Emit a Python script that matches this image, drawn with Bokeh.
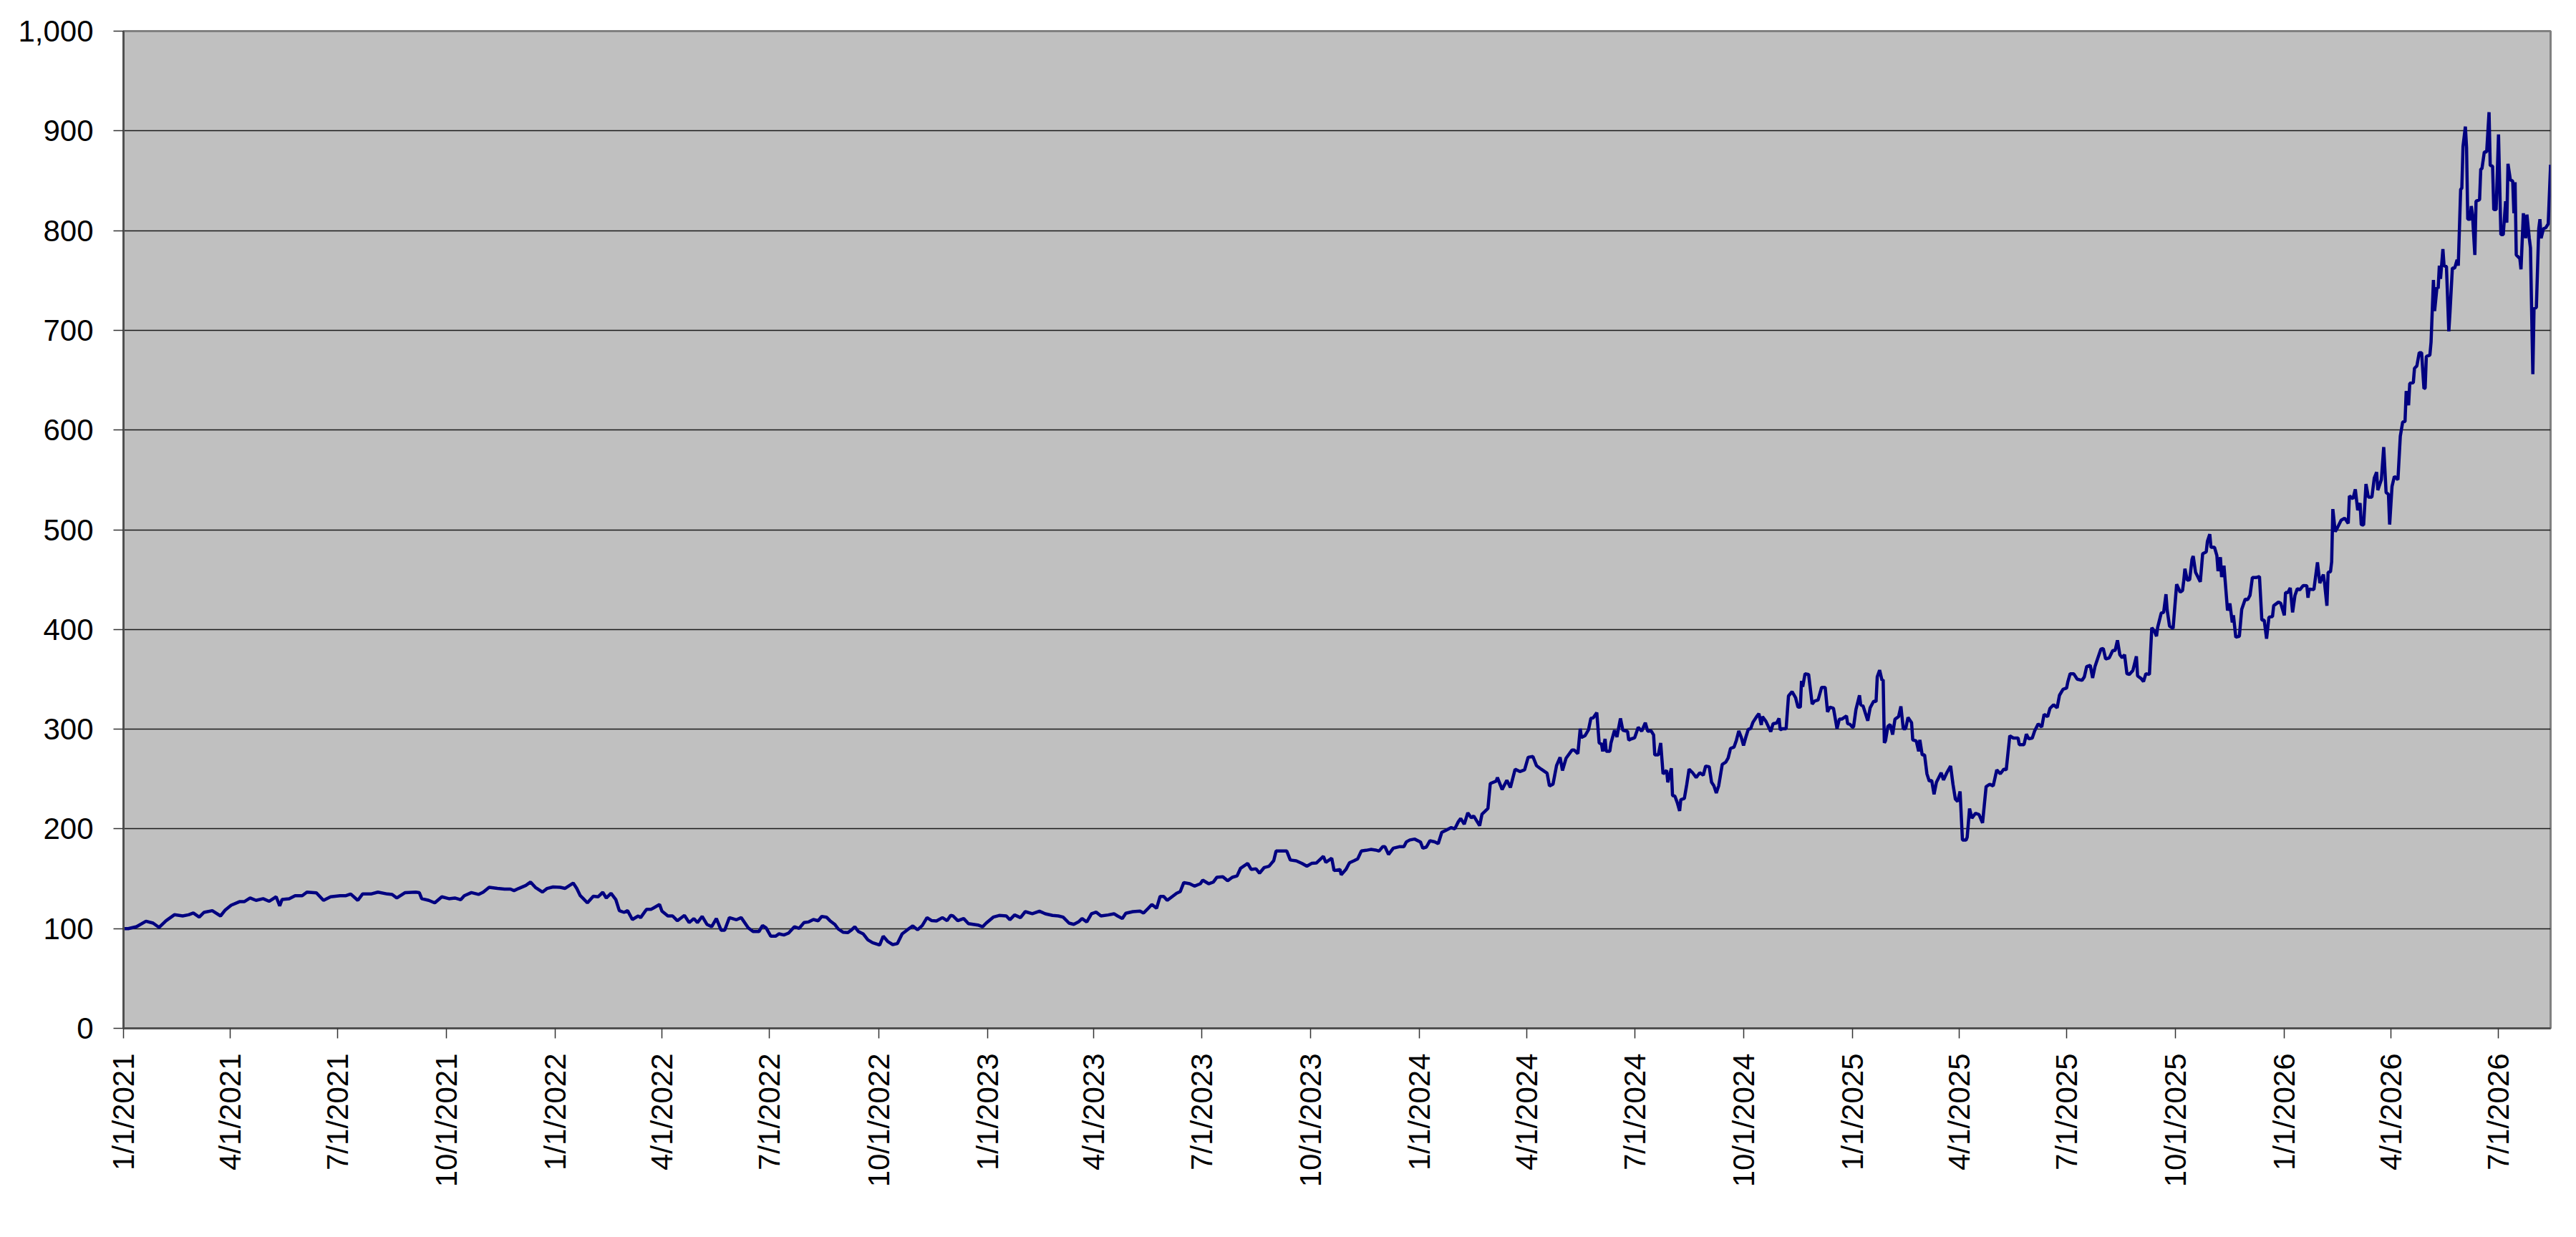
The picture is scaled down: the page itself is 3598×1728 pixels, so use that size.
import math
import pandas as pd
from bokeh.plotting import figure
from bokeh.models import Range1d, FixedTicker, NumeralTickFormatter, ColumnDataSource
from bokeh.embed import file_html
from bokeh.resources import INLINE

# ---- data: (days since 1/1/2021, index value) ----
base_date = "2021-01-01"

series_2021 = [
    (0, 100), (4, 100), (11, 101.9), (19, 107.4), (25, 105.5), (30, 101.2), (36, 107.9), (43, 113.9),
    (50, 112.7), (55, 113.9), (59, 115.6), (64, 111.5), (68, 116.3), (75, 118), (82, 112.7), (86, 118.7),
    (91, 123.5), (98, 127), (102, 127), (107, 130.7), (112, 128.3), (118, 130), (123, 127.4), (129, 131.9),
    (132, 122.8), (134, 129.2), (140, 130), (145, 133), (151, 133), (155, 136.6), (163, 135.9), (169, 128.3),
    (175, 131.9), (183, 133), (188, 133), (192, 134.7), (198, 128.3), (202, 134.7), (209, 134.7), (215, 136.6),
    (223, 134.7), (227, 134.3), (231, 130.7), (238, 136.1), (247, 136.6), (250, 136), (252, 130), (258, 128.3),
    (263, 125.8), (269, 131.9), (275, 130), (280, 130.7), (285, 129), (288, 133), (294, 136.1), (300, 134.3),
    (304, 136.6), (309, 141.4), (316, 140.3), (322, 139.6), (327, 139.6), (330, 138.1), (334, 140.3), (340, 143.3),
    (344, 146.7), (348, 141.4), (354, 136.6), (358, 140.3), (363, 141.8),
]

series_2022 = [
    (369, 141.4), (373, 140.3), (380, 145.7), (383, 140.3), (386, 133), (388, 130.7), (392, 125.8), (397, 132.4),
    (401, 131.9), (405, 136.4), (408, 130.7), (412, 135.4), (416, 129.2), (419, 118), (423, 116.3), (426, 118),
    (430, 109.1), (435, 112.7), (437, 111), (442, 119.4), (446, 119.4), (453, 124.2), (455, 117.5), (460, 112.7),
    (464, 112.7), (468, 107.9), (474, 113.2), (478, 106), (482, 110.1), (485, 106), (489, 112.2), (493, 104.3),
    (497, 101.9), (501, 110.1), (505, 98.4), (508, 98.4), (512, 111), (518, 108.9), (522, 111), (528, 100.7),
    (532, 97.1), (537, 97.1), (540, 103.1), (543, 100.7), (547, 92.4), (551, 92.4), (554, 94.8), (558, 93.6),
    (562, 95.5), (567, 101.9), (571, 100.3), (575, 106), (579, 106.7), (583, 109.1), (587, 107.9), (590, 112.2),
    (594, 111.5), (597, 107.9), (601, 104.3), (604, 99.6), (608, 96.4), (612, 96), (615, 98.4), (618, 101.9),
    (621, 97.1), (625, 94.8), (629, 88.8), (633, 85.9), (639, 83.5), (642, 92.4), (646, 86.9), (650, 84),
    (654, 85), (658, 94.8), (662, 98.4), (667, 102.7), (671, 98.8), (675, 103.1), (679, 111), (683, 108),
    (687, 107.7), (692, 111), (696, 108), (699, 113.2), (701, 112.7), (705, 107.9), (710, 110.1), (714, 105),
    (718, 104.3), (722, 103.6), (726, 101.9), (729, 105.5),
]

series_2023 = [
    (735, 111.5), (740, 113.2), (746, 112.7), (749, 108.9), (753, 113.7), (758, 111), (762, 117), (768, 114.9),
    (774, 117.5), (779, 114.9), (785, 113.2), (790, 112.7), (794, 111.5), (799, 105.5), (803, 104.3), (807, 106.7),
    (810, 110.1), (814, 106.7), (818, 114.9), (822, 116.5), (826, 112.7), (832, 113.7), (837, 114.9), (840, 112.7),
    (844, 110.1), (847, 115.4), (853, 117), (859, 117.5), (862, 115.6), (866, 120.4), (869, 124.2), (873, 120.4),
    (876, 132.3), (879, 132.3), (882, 128.3), (886, 131.9), (890, 135.5), (893, 137.1), (896, 146.2), (901, 145),
    (905, 142.6), (910, 145), (912, 148.6), (917, 145), (921, 146.7), (924, 151.5), (929, 152), (933, 148),
    (937, 151.5), (941, 152.8), (944, 160.6), (950, 165.3), (953, 159.3), (957, 160), (960, 155.6), (964, 161.3),
    (968, 162.5), (972, 168.2), (974, 177.8), (983, 177.8), (986, 168.8), (991, 168), (996, 165.3), (1000, 162.6),
    (1004, 165.4), (1008, 165.8), (1014, 172.5), (1016, 166.5), (1021, 170.6), (1023, 158.2), (1028, 159.3),
    (1029, 153.9), (1033, 159.3), (1036, 166), (1040, 168.2), (1043, 170), (1046, 177.8), (1050, 178.5),
    (1054, 179.4), (1058, 178.8), (1061, 177.8), (1064, 182.1), (1066, 182.1), (1069, 174.4), (1073, 180.6),
    (1078, 182.1), (1082, 182.1), (1084, 186.9), (1087, 188.9), (1091, 189.8),
]

series_2024 = [
    (1096, 186.9), (1098, 180.6), (1101, 181.8), (1104, 188.1), (1108, 187), (1111, 185.2), (1114, 196.5),
    (1118, 198.9), (1122, 201.3), (1125, 200.1), (1128, 207.2), (1130, 210.4), (1133, 204.7), (1136, 216.1),
    (1139, 211), (1141, 213), (1146, 203.2), (1148, 214.8), (1153, 220.4), (1155, 245.5), (1160, 247.9),
    (1161, 251.5), (1165, 239.5), (1169, 248.7), (1172, 241.5), (1176, 259.9), (1180, 257.5), (1184, 259.2),
    (1187, 271.8), (1191, 272.6), (1194, 263.5), (1198, 259.9), (1203, 255.8), (1205, 243.1), (1208, 244.8),
    (1211, 263.5), (1214, 271.8), (1216, 258.5), (1219, 270.8), (1224, 279), (1226, 279), (1229, 275.4),
    (1231, 300.5), (1232, 291.7), (1235, 293.4), (1238, 299.4), (1240, 310.8), (1242, 311.3), (1245, 316.6),
    (1247, 286.2), (1249, 285), (1250, 277.8), (1252, 290.3), (1253, 277.8), (1256, 277.8), (1257, 286.2),
    (1260, 298.9), (1262, 292.2), (1265, 310.8), (1267, 298.9), (1271, 297.7), (1272, 289), (1274, 290.2),
    (1277, 291.4), (1280, 301.8), (1283, 298), (1286, 306.5), (1288, 298), (1291, 298.2), (1293, 294.2),
    (1294, 274.2), (1297, 274.2), (1299, 286.2), (1301, 255.1), (1304, 258.7), (1305, 246.7), (1308, 260.8),
    (1309, 233.5), (1311, 232.8), (1313, 226.4), (1315, 218), (1316, 229.3), (1319, 230.5), (1321, 244.3),
    (1323, 259.9), (1326, 256.3), (1329, 251.5), (1332, 256.3), (1335, 253.9), (1337, 263), (1340, 262.3),
    (1342, 246.7), (1344, 243.1), (1346, 236), (1348, 243.1), (1351, 264.7), (1354, 267), (1356, 271.1),
    (1358, 280.7), (1361, 282.1), (1363, 289), (1365, 298.2), (1367, 292.2), (1369, 283.6), (1371, 292.2),
    (1373, 299.8), (1375, 300.5), (1377, 307), (1380, 312.5), (1382, 315.6), (1384, 304.2), (1385, 312.5),
    (1388, 307.7), (1392, 297.5), (1394, 305.5), (1397, 306.2), (1399, 310.8), (1400, 299.4), (1402, 300.5),
    (1405, 300.5), (1407, 333.3), (1410, 337.6), (1413, 331.6), (1415, 322.1), (1417, 322.1), (1418, 348.4),
    (1419, 342.5), (1421, 355.6), (1424, 354.9), (1426, 335.2), (1427, 325.2), (1429, 328.1), (1432, 329.3),
    (1435, 341.9), (1438, 341.9), (1440, 317.3), (1442, 322.1), (1445, 320.9), (1448, 300.5), (1450, 310.1),
    (1452, 310.1), (1456, 313.3), (1457, 305.5), (1459, 304.8),
]

series_2025 = [
    (1461, 302), (1462, 302.5), (1464, 319.7), (1467, 334), (1468, 324.5), (1470, 323.3), (1474, 308.5),
    (1476, 321.4), (1479, 328.1), (1481, 327.6), (1482, 352.5), (1484, 359.2), (1486, 349.1), (1487, 349.6),
    (1488, 286.2), (1489, 288.5), (1491, 302.9), (1493, 304.6), (1495, 294.6), (1497, 310.1), (1500, 312.5),
    (1502, 322.8), (1504, 300.5), (1506, 300.5), (1508, 311.8), (1511, 306.5), (1512, 289.3), (1515, 288.1),
    (1517, 277.8), (1518, 289.3), (1520, 274.2), (1522, 274.2), (1524, 255.1), (1526, 247.9), (1528, 248.6),
    (1530, 234.7), (1532, 246.7), (1534, 251.5), (1536, 256.3), (1538, 249.1), (1541, 256.8), (1544, 263),
    (1546, 244.7), (1548, 230), (1550, 227.5), (1552, 237.6), (1554, 188.8), (1557, 188.8), (1558, 191.6),
    (1560, 220.4), (1562, 210.8), (1565, 215.6), (1568, 214.4), (1571, 206), (1574, 242.4), (1577, 244.7),
    (1580, 243.1), (1583, 259.2), (1586, 255.2), (1589, 259.9), (1591, 259.2), (1594, 293.4), (1597, 291.1),
    (1601, 291.1), (1602, 284.5), (1606, 284.5), (1608, 295.1), (1610, 290.3), (1613, 291.1), (1615, 298.2),
    (1618, 305.3), (1621, 302.1), (1623, 314.9), (1626, 312.5), (1628, 320.9), (1631, 324.5), (1634, 321.4),
    (1636, 334), (1639, 340), (1642, 341.2), (1643, 347.2), (1645, 355.6), (1648, 355.6), (1651, 350.1),
    (1655, 349), (1657, 352.4), (1659, 362.8), (1662, 364), (1664, 351.4), (1666, 362.8), (1668, 369.9),
    (1671, 380.3), (1673, 380.8), (1675, 370.4), (1678, 371.4), (1681, 378.8), (1683, 378.8), (1685, 389.1),
    (1687, 374.7), (1689, 371.6), (1691, 374.7), (1693, 355.6), (1695, 354.9), (1698, 358.7), (1701, 373.1),
    (1702, 353.4), (1705, 350.8), (1707, 347.7), (1709, 355.6), (1712, 354.9), (1714, 401.8), (1716, 398.7),
    (1718, 393.2), (1719, 402.3), (1722, 416.6), (1724, 417.1), (1726, 435.3), (1727, 419.5), (1729, 403.4),
    (1732, 401), (1735, 445.3), (1738, 437.4), (1740, 439.1), (1741, 448.9), (1742, 460.9), (1744, 449.4),
    (1746, 449.9), (1748, 470.4), (1749, 473.5), (1751, 457.3), (1752, 454.9), (1755, 447.7), (1757, 476),
    (1760, 477.7), (1761, 488.4), (1763, 495.6), (1764, 482.4), (1767, 482.4), (1769, 474), (1770, 458.5),
    (1772, 472.5), (1773, 452.5), (1775, 464), (1776, 448.9), (1778, 419), (1780, 426), (1782, 407),
    (1783, 414.2), (1785, 392.2), (1788, 393.2), (1790, 420.2), (1793, 430.5), (1795, 429.8), (1797, 434.2),
    (1799, 452), (1802, 452), (1805, 453), (1807, 409.4), (1809, 409.4), (1811, 390.7), (1813, 412.3),
    (1816, 413), (1817, 423.8), (1821, 427.4), (1823, 426.2),
]

series_2026 = [
    (1826, 414.2), (1827, 437), (1829, 437), (1831, 441.7), (1833, 417.1), (1835, 434.2), (1837, 440.9),
    (1839, 439.7), (1842, 444.1), (1845, 443.8), (1846, 431.8), (1847, 440.4), (1851, 440.1), (1854, 467.3),
    (1856, 446.5), (1859, 455), (1860, 446.5), (1862, 423.8), (1863, 457.3), (1865, 457.8), (1866, 467.8),
    (1867, 520.7), (1869, 498), (1871, 502.3), (1874, 509.5), (1877, 511.6), (1880, 506.3), (1881, 533.9),
    (1884, 531), (1886, 540.6), (1888, 519.5), (1890, 526.7), (1891, 505.2), (1893, 504.7), (1895, 545.8),
    (1897, 532.7), (1900, 532.7), (1902, 551.8), (1904, 557.8), (1905, 539.7), (1908, 550.2), (1910, 582.9),
    (1912, 537.4), (1914, 535.5), (1915, 505.2), (1917, 543.4), (1919, 553.5), (1922, 550.2), (1924, 593.7),
    (1926, 608), (1928, 608.5), (1929, 639.1), (1931, 624.8), (1932, 646.8), (1935, 647.5), (1936, 661.9),
    (1938, 664.3), (1940, 677.5), (1942, 677.5), (1944, 641.6), (1945, 642.1), (1946, 673.9), (1949, 675.1),
    (1950, 688.2), (1952, 750.4), (1953, 719.3), (1955, 743.2), (1956, 742), (1957, 764.8), (1958, 751.6),
    (1960, 781.5), (1961, 764.6), (1963, 764), (1965, 699), (1966, 718.1), (1968, 762.4), (1970, 762.4),
    (1972, 770.8), (1973, 764.8), (1975, 841.3), (1976, 842.5), (1977, 884.4), (1979, 904.3), (1980, 883.2),
    (1981, 811.4), (1983, 811.4), (1984, 824.6), (1985, 816), (1987, 775.5), (1988, 829.4), (1991, 831),
    (1992, 861.7), (1993, 862), (1995, 878.9), (1997, 878.9), (1999, 918.7), (2000, 865.3), (2002, 864.6),
    (2003, 821), (2005, 821), (2007, 896.4), (2009, 795.9), (2011, 795.9), (2013, 829.4), (2014, 807.8),
    (2015, 867), (2017, 850.9), (2019, 849.6), (2020, 817.4), (2021, 848.5), (2022, 775.5), (2025, 772),
    (2026, 761.2), (2028, 817.4), (2030, 792.3), (2031, 816), (2033, 792.3), (2034, 782.7), (2036, 655.9),
    (2037, 721.7), (2039, 722.9), (2041, 801.9), (2042, 811.4), (2043, 792.3), (2045, 801.9), (2047, 803),
    (2049, 806.7), (2051, 866),
]

x_tick_labels = [
    "1/1/2021", "4/1/2021", "7/1/2021", "10/1/2021",
    "1/1/2022", "4/1/2022", "7/1/2022", "10/1/2022",
    "1/1/2023", "4/1/2023", "7/1/2023", "10/1/2023",
    "1/1/2024", "4/1/2024", "7/1/2024", "10/1/2024",
    "1/1/2025", "4/1/2025", "7/1/2025", "10/1/2025",
    "1/1/2026", "4/1/2026", "7/1/2026",
]
y_ticks = [0, 100, 200, 300, 400, 500, 600, 700, 800, 900, 1000]
x_end_date = "2026-08-14"

# ---- build ----
all_rows = series_2021 + series_2022 + series_2023 + series_2024 + series_2025 + series_2026
day_offsets = [r[0] for r in all_rows]
values = [r[1] for r in all_rows]
dates = pd.Timestamp(base_date) + pd.to_timedelta(day_offsets, unit="D")
source = ColumnDataSource(data=dict(date=dates, value=values))

def to_ms(ts):
    return ts.timestamp() * 1000.0

tick_ts = pd.to_datetime(x_tick_labels, format="%m/%d/%Y")
tick_ms = [to_ms(t) for t in tick_ts]

FONT = "Liberation Sans"

p = figure(
    x_axis_type="datetime",
    frame_width=3390, frame_height=1393,
    min_border_left=172, min_border_right=20, min_border_top=43, min_border_bottom=262,
    output_backend="svg", toolbar_location=None,
    x_range=Range1d(pd.Timestamp(base_date), pd.Timestamp(x_end_date)),
    y_range=Range1d(0, 1000),
)
p.background_fill_color = "#C0C0C0"
p.border_fill_color = "white"
p.outline_line_color = "#808080"
p.outline_line_width = 3

p.line(x="date", y="value", source=source, line_color="#000080", line_width=4.5)

# grid
p.xgrid.grid_line_color = None
p.ygrid.ticker = FixedTicker(ticks=y_ticks)
p.ygrid.grid_line_color = "#1a1a1a"
p.ygrid.grid_line_width = 1.5

# x axis
xa = p.xaxis[0]
xa.ticker = FixedTicker(ticks=tick_ms)
xa.major_label_overrides = {t: lab for t, lab in zip(tick_ms, x_tick_labels)}
xa.major_label_orientation = math.pi / 2
xa.major_label_text_font = FONT
xa.major_label_text_font_size = "42px"
xa.major_label_text_color = "black"
xa.major_label_standoff = 21
xa.major_tick_in = 0
xa.major_tick_out = 14
xa.minor_tick_line_color = None
xa.major_tick_line_color = "#333333"
xa.major_tick_line_width = 1.5
xa.axis_line_color = "#505050"
xa.axis_line_width = 3

# y axis
ya = p.yaxis[0]
ya.ticker = FixedTicker(ticks=y_ticks)
ya.formatter = NumeralTickFormatter(format="0,0")
ya.major_label_text_font = FONT
ya.major_label_text_font_size = "42px"
ya.major_label_text_color = "black"
ya.major_label_standoff = 28
ya.major_tick_in = 0
ya.major_tick_out = 14
ya.minor_tick_line_color = None
ya.major_tick_line_color = "#333333"
ya.major_tick_line_width = 1.5
ya.axis_line_color = "#505050"
ya.axis_line_width = 3

open("out.html", "w").write(file_html(p, INLINE))
